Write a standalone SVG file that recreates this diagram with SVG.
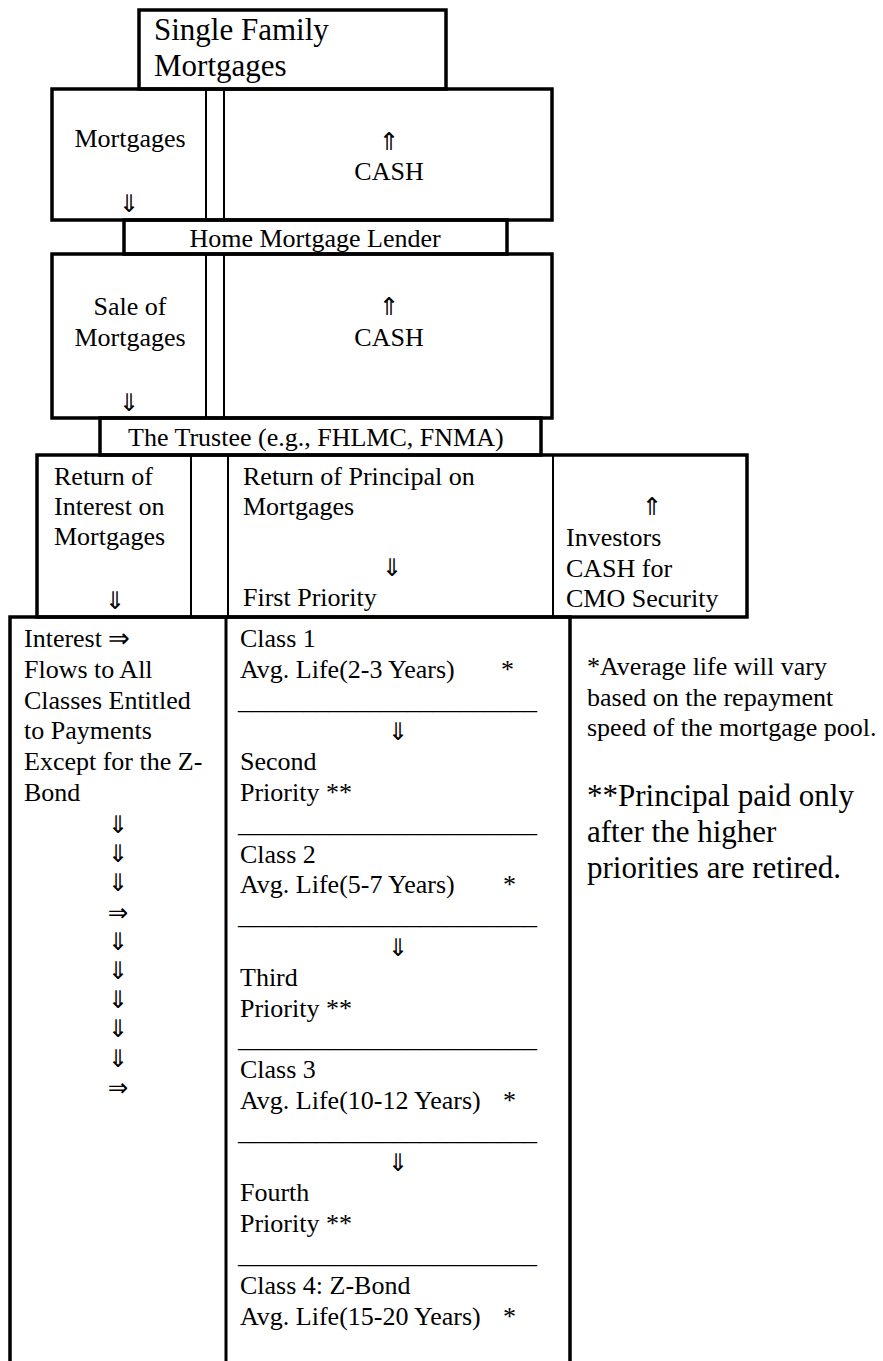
<svg xmlns="http://www.w3.org/2000/svg" width="883" height="1361" viewBox="0 0 883 1361">
<style>
.t{font-family:"Liberation Serif","Times New Roman",serif;font-size:26px;fill:#000}
.big{font-size:31px}
.mid{text-anchor:middle}
.ar{font-family:"DejaVu Sans",sans-serif;font-size:24.5px;fill:#000;text-anchor:middle}
.box{fill:none;stroke:#000;stroke-width:3.5}
.dv{fill:none;stroke:#000;stroke-width:2}
.dvk{fill:none;stroke:#000;stroke-width:3}
</style>
<rect width="883" height="1361" fill="#fff"/>

<g id="single-family-mortgages">
<rect class="box" x="139" y="10" width="307" height="79"/>
<text class="t big" x="154" y="40">Single Family</text>
<text class="t big" x="154" y="76">Mortgages</text>
</g>

<g id="mortgages-cash-row">
<rect class="box" x="52" y="89" width="500" height="131"/>
<line class="dv" x1="206" y1="89" x2="206" y2="220"/>
<line class="dv" x1="224" y1="89" x2="224" y2="220"/>
<text class="t mid" x="130" y="147">Mortgages</text>
<text class="t mid" x="389" y="180">CASH</text>
</g>

<g id="home-mortgage-lender">
<rect class="box" x="124" y="220" width="383" height="34"/>
<text class="t mid" x="315" y="247">Home Mortgage Lender</text>
</g>

<g id="sale-cash-row">
<rect class="box" x="52" y="254" width="500" height="164"/>
<line class="dv" x1="206" y1="254" x2="206" y2="418"/>
<line class="dv" x1="224" y1="254" x2="224" y2="418"/>
<text class="t mid" x="130" y="315">Sale of</text>
<text class="t mid" x="130" y="346">Mortgages</text>
<text class="t mid" x="389" y="346">CASH</text>
</g>

<g id="trustee">
<rect class="box" x="100" y="418" width="441" height="37"/>
<text class="t" x="128" y="446">The Trustee (e.g., FHLMC, FNMA)</text>
</g>

<g id="returns-row">
<rect class="box" x="37" y="455" width="710" height="162"/>
<line class="dv" x1="191" y1="455" x2="191" y2="617"/>
<line class="dv" x1="228" y1="455" x2="228" y2="617"/>
<line class="dv" x1="553" y1="455" x2="553" y2="617"/>
<text class="t" x="54" y="485">Return of</text>
<text class="t" x="54" y="515">Interest on</text>
<text class="t" x="54" y="545">Mortgages</text>
<text class="t" x="243" y="485">Return of Principal on</text>
<text class="t" x="243" y="515">Mortgages</text>
<text class="t" x="243" y="606">First Priority</text>
<text class="t" x="566" y="546">Investors</text>
<text class="t" x="566" y="577">CASH for</text>
<text class="t" x="566" y="607">CMO Security</text>
</g>

<g id="interest-flows">
<path class="box" d="M10,1363 V617 H226"/>
<line class="dvk" x1="226" y1="617" x2="226" y2="1363"/>
<text class="t" x="24" y="647">Interest ⇒</text>
<text class="t" x="24" y="678">Flows to All</text>
<text class="t" x="24" y="709">Classes Entitled</text>
<text class="t" x="24" y="739">to Payments</text>
<text class="t" x="24" y="770">Except for the Z-</text>
<text class="t" x="24" y="801">Bond</text>
</g>

<g id="cmo-classes">
<path class="box" d="M226,617 H570 V1363"/>
<text class="t" x="240" y="647">Class 1</text>
<text class="t" x="240" y="678">Avg. Life(2-3 Years) <tspan x="501">*</tspan></text>
<text class="t" x="238" y="709">_______________________</text>
<text class="t" x="240" y="770">Second</text>
<text class="t" x="240" y="801">Priority **</text>
<text class="t" x="238" y="832">_______________________</text>
<text class="t" x="240" y="863">Class 2</text>
<text class="t" x="240" y="893">Avg. Life(5-7 Years) <tspan x="503">*</tspan></text>
<text class="t" x="238" y="924">_______________________</text>
<text class="t" x="240" y="986">Third</text>
<text class="t" x="240" y="1017">Priority **</text>
<text class="t" x="238" y="1047">_______________________</text>
<text class="t" x="240" y="1078">Class 3</text>
<text class="t" x="240" y="1109">Avg. Life(10-12 Years) <tspan x="503">*</tspan></text>
<text class="t" x="238" y="1140">_______________________</text>
<text class="t" x="240" y="1201">Fourth</text>
<text class="t" x="240" y="1232">Priority **</text>
<text class="t" x="238" y="1263">_______________________</text>
<text class="t" x="240" y="1294">Class 4: Z-Bond</text>
<text class="t" x="240" y="1325">Avg. Life(15-20 Years) <tspan x="503">*</tspan></text>
</g>

<g id="footnotes">
<text class="t" x="587" y="675">*Average life will vary</text>
<text class="t" x="587" y="706">based on the repayment</text>
<text class="t" x="587" y="736">speed of the mortgage pool.</text>
<text class="t big" x="587" y="806">**Principal paid only</text>
<text class="t big" x="587" y="842">after the higher</text>
<text class="t big" x="587" y="878">priorities are retired.</text>
</g>

<g id="connectors">
<text class="ar" x="129" y="212">⇓</text>
<text class="ar" x="389" y="150">⇑</text>
<text class="ar" x="129" y="411">⇓</text>
<text class="ar" x="389" y="315">⇑</text>
<text class="ar" x="115" y="609">⇓</text>
<text class="ar" x="392" y="576">⇓</text>
<text class="ar" x="652" y="515">⇑</text>
<text class="ar" x="398" y="740">⇓</text>
<text class="ar" x="398" y="956">⇓</text>
<text class="ar" x="398" y="1171">⇓</text>
<text class="ar" x="118" y="833">⇓</text>
<text class="ar" x="118" y="862">⇓</text>
<text class="ar" x="118" y="891">⇓</text>
<text class="ar" x="118" y="921">⇒</text>
<text class="ar" x="118" y="950">⇓</text>
<text class="ar" x="118" y="979">⇓</text>
<text class="ar" x="118" y="1008">⇓</text>
<text class="ar" x="118" y="1037">⇓</text>
<text class="ar" x="118" y="1067">⇓</text>
<text class="ar" x="118" y="1096">⇒</text>
</g>
</svg>
